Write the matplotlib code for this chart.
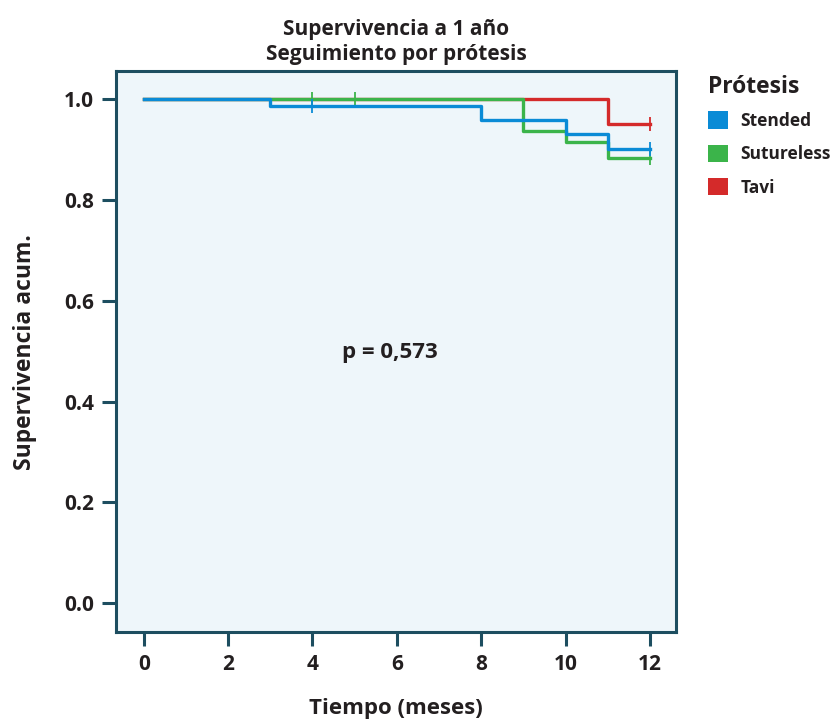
import numpy as np
import matplotlib.pyplot as plt
from matplotlib.patches import Patch

plt.rcParams['font.family'] = ['Open Sans', 'DejaVu Sans']
plt.rcParams['font.weight'] = 'bold'

# ---------------------------------------------------------
# DATA (Kaplan-Meier steps)
# ---------------------------------------------------------
groups = ["Stended", "Sutureless", "Tavi"]
colors = ["#0a8bd6", "#3bb44a", "#d42a2a"]

stended_t = [0, 3, 8, 10, 11, 12]
stended_s = [1.0, 0.988, 0.960, 0.932, 0.902, 0.902]
stended_cens_t = [4, 12]

sutureless_t = [0, 9, 10, 11, 12]
sutureless_s = [1.0, 0.937, 0.916, 0.884, 0.884]
sutureless_cens_t = [4, 5, 12]

tavi_t = [0, 11, 12]
tavi_s = [1.0, 0.951, 0.951]
tavi_cens_t = [12]

curves = [
    (stended_t, stended_s, stended_cens_t),
    (sutureless_t, sutureless_s, sutureless_cens_t),
    (tavi_t, tavi_s, tavi_cens_t),
]

x_ticks = [0, 2, 4, 6, 8, 10, 12]
y_ticks = [0.0, 0.2, 0.4, 0.6, 0.8, 1.0]

frame_col = "#1d4e60"
text_col = "#231f20"

# ---------------------------------------------------------
# PLOT
# ---------------------------------------------------------
fig = plt.figure(figsize=(8.32, 7.2), dpi=100)
ax = fig.add_axes([0.1394, 0.122, 0.6731, 0.779])
ax.set_facecolor("#eef6fa")

# blue on top, then green, red at the bottom
zs = [6, 5, 4]
for i in range(3):
    t, s, ct = curves[i]
    ax.step(t, s, where="post", color=colors[i], lw=2.4, zorder=zs[i])
    cs = [s[np.searchsorted(t, c, side="right") - 1] for c in ct]
    ax.plot(ct, cs, linestyle="none", marker="|", markersize=10,
            markeredgewidth=1.3, color=colors[i], zorder=zs[i])

ax.set_xlim(-0.66, 12.62)
ax.set_ylim(-0.058, 1.056)
ax.set_xticks(x_ticks)
ax.set_yticks(y_ticks)
ax.set_xticklabels([str(v) for v in x_ticks])
ax.set_yticklabels([f"{v:.1f}" for v in y_ticks])

for sp in ax.spines.values():
    sp.set_color(frame_col)
    sp.set_linewidth(2.2)

ax.tick_params(axis="both", colors=frame_col, width=2.2, length=10,
               labelsize=15, labelcolor=text_col, pad=6)
for lab in ax.get_xticklabels() + ax.get_yticklabels():
    lab.set_fontweight("bold")

ax.set_xlabel("Tiempo (meses)", fontsize=16, fontweight="bold",
              color=text_col, labelpad=16)
ax.set_ylabel("Supervivencia acum.", fontsize=16.5, fontweight="bold",
              color=text_col, labelpad=19)
ax.set_title("Supervivencia a 1 año\nSeguimiento por prótesis",
             fontsize=15, fontweight="bold", color=text_col, pad=8,
             linespacing=1.25)

ax.text(5.83, 0.498, "p = 0,573", fontsize=16, fontweight="bold",
        color=text_col, ha="center", va="center")

# legend: title as separate text so the entry spacing can be matched
fig.text(708 / 832, 1 - 87 / 720, "Prótesis", fontsize=16.5,
         fontweight="bold", color=text_col, ha="left", va="center")

handles = [Patch(facecolor=c, edgecolor="none", label=g)
           for g, c in zip(groups, colors)]
leg = ax.legend(handles=handles, loc="upper left",
                bbox_to_anchor=(1.044, 0.941), frameon=False,
                fontsize=12.5, handlelength=1.15,
                handleheight=1.15, labelspacing=0.86, handletextpad=0.75,
                borderaxespad=0)
for txt in leg.get_texts():
    txt.set_fontweight("bold")
    txt.set_color(text_col)

fig.savefig("out.png", dpi=100)
plt.close()
